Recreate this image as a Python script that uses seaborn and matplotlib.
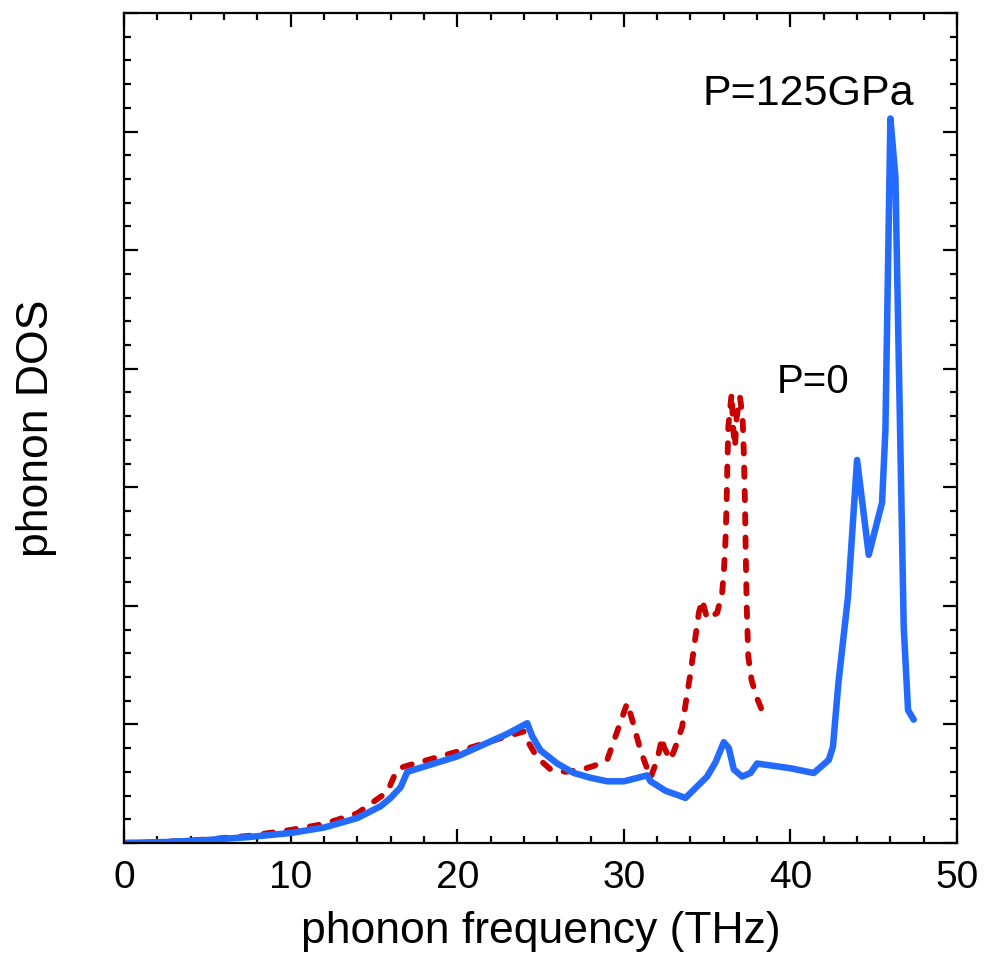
import numpy as np
import pandas as pd
import matplotlib
matplotlib.use("Agg")
import matplotlib.pyplot as plt
from matplotlib.ticker import MultipleLocator, NullFormatter
import seaborn as sns

# P = 125 GPa curve (solid blue)
freq_125 = [0, 2.5, 5, 7.5, 10, 12, 14, 15.4, 16, 16.6, 17, 20, 23, 24.2, 24.5, 25,
            26, 27, 28, 29, 30, 31.4, 31.6, 32.5, 33.7, 35, 35.5, 36, 36.3, 36.6,
            37.1, 37.6, 38, 40, 41.4, 42.3, 42.55, 42.88, 43.45, 44.0, 44.7, 45.5,
            45.7, 46.0, 46.3, 46.8, 47.06, 47.4]
dos_125 = [0, 0.008, 0.025, 0.05, 0.084, 0.13, 0.21, 0.31, 0.38, 0.47, 0.60, 0.73,
           0.92, 1.01, 0.90, 0.78, 0.67, 0.59, 0.55, 0.52, 0.52, 0.57, 0.52, 0.44,
           0.38, 0.56, 0.68, 0.85, 0.80, 0.62, 0.56, 0.59, 0.67, 0.63, 0.59, 0.70,
           0.81, 1.35, 2.07, 3.23, 2.43, 2.87, 3.48, 6.11, 5.62, 1.82, 1.12, 1.04]

# P = 0 curve (dashed red)
freq_0 = [0, 2.5, 5, 7.5, 10, 12, 14, 15, 15.8, 16.2, 16.5, 17.2, 20, 23, 24, 24.3,
          24.8, 25.6, 26.5, 27.5, 28.2, 29.0, 29.7, 30.2, 30.5, 31.0, 31.6, 32.0,
          32.3, 32.4, 32.8, 33.1, 33.5, 33.8, 34.0, 34.3, 34.5, 34.7, 35.0, 35.6,
          35.9, 36.0, 36.1, 36.17, 36.21, 36.27, 36.37, 36.47, 36.57, 36.67, 36.77,
          36.97, 37.13, 37.2, 37.27, 37.31, 37.37, 37.47, 37.67, 37.97, 38.37, 38.5]
dos_0 = [0, 0.01, 0.03, 0.06, 0.11, 0.16, 0.25, 0.35, 0.43, 0.56, 0.63, 0.66, 0.77,
         0.90, 0.94, 0.84, 0.72, 0.62, 0.60, 0.62, 0.65, 0.70, 0.98, 1.18, 1.04,
         0.78, 0.55, 0.70, 0.89, 0.81, 0.70, 0.81, 0.98, 1.26, 1.43, 1.74, 1.94,
         2.05, 1.89, 1.94, 2.11, 2.28, 2.55, 2.87, 3.17, 3.51, 3.65, 3.79, 3.48,
         3.34, 3.59, 3.76, 3.59, 3.29, 2.87, 2.50, 2.02, 1.57, 1.37, 1.23, 1.09, 1.06]

sns.set_style("ticks")
plt.rcParams['font.family'] = ['Liberation Sans', 'DejaVu Sans']
plt.rcParams['text.color'] = 'black'
plt.rcParams['axes.labelcolor'] = 'black'
plt.rcParams['xtick.color'] = 'black'
plt.rcParams['ytick.color'] = 'black'

df_125 = pd.DataFrame({'freq': freq_125, 'dos': dos_125})
df_0 = pd.DataFrame({'freq': freq_0, 'dos': dos_0})

fig = plt.figure(figsize=(9.85, 9.59), dpi=100)
ax = fig.add_axes([0.126, 0.121, 0.8456, 0.8655])

sns.lineplot(data=df_0, x='freq', y='dos', ax=ax, sort=False, estimator=None,
             color='#c80000', linewidth=4.2, linestyle=(0, (1.6, 2.4)),
             dash_capstyle='round', dash_joinstyle='round')
sns.lineplot(data=df_125, x='freq', y='dos', ax=ax, sort=False, estimator=None,
             color='#236bff', linewidth=4.7, solid_capstyle='round',
             solid_joinstyle='round')

ax.set_xlim(0, 50)
ax.set_ylim(0, 7)
ax.xaxis.set_major_locator(MultipleLocator(10))
ax.xaxis.set_minor_locator(MultipleLocator(2))
ax.yaxis.set_major_locator(MultipleLocator(1))
ax.yaxis.set_minor_locator(MultipleLocator(0.2))
ax.yaxis.set_major_formatter(NullFormatter())

for side in ['top', 'right', 'left', 'bottom']:
    ax.spines[side].set_visible(True)
    ax.spines[side].set_linewidth(1.6)
    ax.spines[side].set_color('black')

ax.tick_params(which='both', direction='in', top=True, right=True,
               width=1.6, color='black')
ax.tick_params(which='major', length=10, labelsize=28, pad=12)
ax.tick_params(which='minor', length=5)

ax.set_xlabel('phonon frequency (THz)', fontsize=32, labelpad=11)
ax.set_ylabel('phonon DOS', fontsize=32, labelpad=36)

ax.text(41.05, 6.15, 'P=125GPa', fontsize=31, ha='center', va='bottom')
ax.text(41.35, 3.73, 'P=0', fontsize=29, ha='center', va='bottom')

plt.savefig('out.png', dpi=100)
plt.close()
